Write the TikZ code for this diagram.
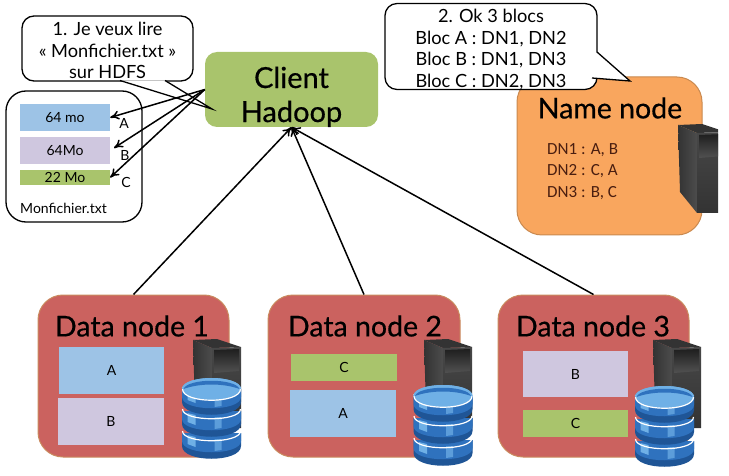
\documentclass[tikz,border=0pt]{standalone}
\usepackage{fontspec}
\setmainfont{Lato}
\newfontfamily\dnfont{Carlito}
\newfontfamily\headfont[FakeBold=0.5]{Lato}
\usetikzlibrary{arrows.meta}

\definecolor{clientgreen}{HTML}{A9C46C}
\definecolor{blockblue}{HTML}{9DC3E6}
\definecolor{blocklilac}{HTML}{CFC7DF}
\definecolor{namefill}{HTML}{F9A65E}
\definecolor{nameline}{HTML}{C9894F}
\definecolor{datafill}{HTML}{CB625F}
\definecolor{dataline}{HTML}{C98B5E}
\definecolor{dnbrown}{HTML}{4A1E10}
\definecolor{dbbody}{HTML}{2F72BE}
\definecolor{dbdark}{HTML}{1F5596}
\definecolor{dblight}{HTML}{6FB0E6}

\tikzstyle{block} = [rectangle,inner sep=0pt,font=\fontsize{14}{16}\selectfont]
\tikzstyle{bigbox} = [rectangle,inner sep=0pt,rounded corners=25pt,line width=1pt,align=center]
\tikzstyle{bubble} = [rectangle,draw=black,fill=white,line width=1.3pt,rounded corners=12pt,inner sep=0pt,align=center,font=\fontsize{18.2}{21.5}\selectfont]
\tikzstyle{title} = [inner sep=0pt,font=\headfont\fontsize{28.5}{32}\selectfont]
\tikzstyle{tag} = [inner sep=0pt,font=\fontsize{14}{16}\selectfont]
\tikzstyle{dnline} = [inner sep=0pt,anchor=west,text=dnbrown,font=\dnfont\fontsize{17}{20}\selectfont]

\tikzset{
	tower/.pic={
		\fill [black!80] (0,1) -- (24,0) -- (48,8) -- (19,9) -- cycle;
		\shade [left color=black!80,right color=black!70] (0,1) -- (19,9) -- (19,89) -- (2,68) -- cycle;
		\shade [top color=black!72,bottom color=black!80] (19,9) -- (48,8) -- (48,89) -- (19,89) -- cycle;
		\shade [top color=black!88,bottom color=black!68] (21,11) -- (46,10) -- (46,32) -- (21,34) -- cycle;
	},
	dbstack/.pic={
		\foreach \k in {44,22,0} {
			\fill [dbdark] (-29.5,\k+11) -- (-29.5,\k+24) .. controls (-29.5,\k+41) and (29.5,\k+41) .. (29.5,\k+24) -- (29.5,\k+11) -- cycle;
			\fill [dbbody] (-29.5,\k+11) -- (-29.5,\k+19) .. controls (-29.5,\k+34) and (29.5,\k+34) .. (29.5,\k+19) -- (29.5,\k+11) -- cycle;
			\fill [dblight] (-24,\k+13) -- (-24,\k+22) -- (-16,\k+25) -- (-16,\k+15) -- cycle;
			\fill [dblight!70!dbbody] (3,\k+17) -- (3,\k+29) -- (10,\k+28) -- (10,\k+17) -- cycle;
			\draw [white,line width=1.2pt] (-29,\k+9) .. controls (-29,\k+22) and (29,\k+22) .. (29,\k+9);
		}
		\fill [dblight] (0,11) ellipse [x radius=29.5pt,y radius=11pt];
		\fill [dbbody] (-28,11) .. controls (-24,0) and (24,0) .. (28,11) .. controls (12,5) and (-12,5) .. (-28,11) -- cycle;
		\draw [white,line width=1.2pt] (-29,11) .. controls (-29,26) and (29,26) .. (29,11);
		\draw [dblight,line width=1pt] (-29,11) .. controls (-29,-3) and (29,-3) .. (29,11);
	},
}

\begin{document}
\begin{tikzpicture}[x=1pt,y=-1pt,>={To[length=9pt,width=9pt]}]
	\useasboundingbox (0,0) rectangle (729,476);
	% client and file
	\node (client) [rectangle,fill=clientgreen,rounded corners=12pt,minimum width=173pt,minimum height=75pt,inner sep=0pt,align=center,font=\headfont\fontsize{29}{34}\selectfont] at (291.5,89.5) {\rule{0pt}{36pt}Client\\Hadoop};
	\node (filebox) [bigbox,draw=black,line width=1.3pt,rounded corners=20pt,minimum width=136pt,minimum height=131pt] at (74,156.5) {};
	\node (fileA) [block,fill=blockblue,minimum width=90pt,minimum height=27pt] at (65,117.5) {64 mo};
	\node (fileB) [block,fill=blocklilac,minimum width=90pt,minimum height=27pt] at (65,150.5) {64Mo};
	\node (fileC) [block,fill=clientgreen,minimum width=90pt,minimum height=15pt] at (65,177.5) {22 Mo};
	\node (tagA) [tag] at (124,123) {A};
	\node (tagB) [tag] at (125,155) {B};
	\node (tagC) [tag] at (126,182) {C};
	\node (filename) [tag] at (63.5,208) {Monfichier.txt};
	% first bubble
	\node (ask) [bubble,minimum width=171pt,minimum height=65pt] at (107.5,48.5) {\rule{0pt}{18pt}1. Je veux lire\\« Monfichier.txt »\\sur HDFS};
	\coordinate (askleft) at (120,80.5);
	\coordinate (asktip) at (212,109);
	\coordinate (askright) at (165,80.5);
	\fill [white] (askleft) -- (asktip) -- (askright) -- cycle;
	\draw [line width=1.3pt] (askleft) -- (asktip) -- (askright);
	% name node
	\node (namenode) [bigbox,draw=nameline,fill=namefill,minimum width=185pt,minimum height=158pt] at (609.5,156) {};
	\node (nametitle) [title] at (610,108) {Name node};
	\node (dnone) [dnline] at (547,150) {DN1 : A, B};
	\node (dntwo) [dnline] at (547,171) {DN2 : C, A};
	\node (dnthree) [dnline] at (547,193) {DN3 : B, C};
	\begin{scope}
		\clip (600,100) rectangle (718,240);
		\pic at (678,124) {tower};
	\end{scope}
	% second bubble
	\node (answer) [bubble,minimum width=212pt,minimum height=83pt] at (491,46.5) {\rule{0pt}{19pt}2. Ok 3 blocs\\Bloc A : DN1, DN2\\Bloc B : DN1, DN3\\Bloc C : DN2, DN3};
	\coordinate (ansleft) at (597,52);
	\coordinate (anstip) at (630,81);
	\coordinate (ansright) at (592,78);
	\fill [white] (ansleft) -- (anstip) -- (ansright) -- (590,60) -- cycle;
	\draw [line width=1.3pt] (ansleft) -- (anstip) -- (ansright);
	% data node 1
	\node (data1) [bigbox,draw=dataline,fill=datafill,minimum width=191pt,minimum height=162pt] at (133.5,376) {};
	\node (title1) [title] at (132,326) {Data node 1};
	\node (a1) [block,fill=blockblue,minimum width=105pt,minimum height=47pt] at (111.5,370.5) {A};
	\node (b1) [block,fill=blocklilac,minimum width=106pt,minimum height=47pt] at (111,421.5) {B};
	\pic at (193,339) {tower};
	\pic at (211.5,378) {dbstack};
	% data node 2
	\node (data2) [bigbox,draw=dataline,fill=datafill,minimum width=192pt,minimum height=162pt] at (364,376) {};
	\node (title2) [title] at (365,326) {Data node 2};
	\node (c2) [block,fill=clientgreen,minimum width=106pt,minimum height=27pt] at (344,367.5) {C};
	\node (a2) [block,fill=blockblue,minimum width=106pt,minimum height=47pt] at (343,413.5) {A};
	\pic at (424,339) {tower};
	\pic at (443,385) {dbstack};
	% data node 3
	\node (data3) [bigbox,draw=dataline,fill=datafill,minimum width=191pt,minimum height=162pt] at (593.5,376) {};
	\node (title3) [title] at (593,326) {Data node 3};
	\node (b3) [block,fill=blocklilac,minimum width=105pt,minimum height=46pt] at (575.5,374) {B};
	\node (c3) [block,fill=clientgreen,minimum width=105pt,minimum height=27pt] at (575.5,423.5) {C};
	\pic at (653,339) {tower};
	\pic at (664.5,386) {dbstack};
	% connections
	\draw [->,line width=1.5pt] (client.west) -- (fileA.east);
	\draw [->,line width=1.5pt] (client.west) -- (114,148);
	\draw [->,line width=1.5pt] (client.west) -- (fileC.east);
	\draw [->,line width=1.5pt] (data1.north) -- (client.south);
	\draw [->,line width=1.5pt] (data2.north) -- (client.south);
	\draw [->,line width=1.5pt] (data3.north) -- (client.south);
\end{tikzpicture}
\end{document}
